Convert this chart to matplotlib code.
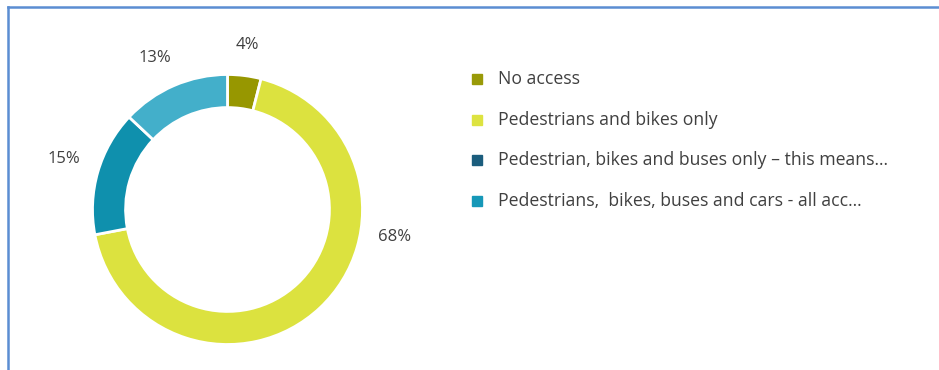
import matplotlib
matplotlib.use("Agg")
import matplotlib.pyplot as plt
from matplotlib.patches import Rectangle
from matplotlib.lines import Line2D

plt.rcParams['font.family'] = ['Open Sans', 'DejaVu Sans']

# share of respondents per access option
categories = [
    "No access",
    "Pedestrians and bikes only",
    "Pedestrian, bikes and buses only \u2013 this means...",
    "Pedestrians,  bikes, buses and cars - all acc...",
]
shares = [4, 68, 15, 13]
slice_colors = ["#979700", "#dce23f", "#0f90ad", "#43afca"]
legend_colors = ["#999a08", "#dde340", "#1b5d7d", "#1698b8"]

# label centres in figure pixels (from top-left)
label_pos = [(247, 45), (395, 237), (64, 159), (155, 58)]

W, H = 939, 370
fig = plt.figure(figsize=(W / 100, H / 100), dpi=100)

# donut centred at (227.5, 209.5) px, outer radius 135 px
cx, cy, r = 227.5, 209.5, 135
ax = fig.add_axes([(cx - r) / W, (H - cy - r) / H, 2 * r / W, 2 * r / H])
ax.pie(shares, colors=slice_colors, startangle=90, counterclock=False,
       radius=1, wedgeprops=dict(width=0.245, edgecolor="white", linewidth=2))
ax.set_xlim(-1, 1)
ax.set_ylim(-1, 1)
ax.set_aspect("equal")
ax.axis("off")

for v, (px, py) in zip(shares, label_pos):
    fig.text(px / W, 1 - py / H, f"{v}%", ha="center", va="center",
             fontsize=12, color="#404040")

# legend: square markers with labels
for i, (name, col) in enumerate(zip(categories, legend_colors)):
    y = 79 + i * 40.7
    fig.patches.append(Rectangle((472 / W, 1 - (y + 5) / H), 10 / W, 10 / H,
                                 transform=fig.transFigure, color=col))
    fig.text(498 / W, 1 - y / H, name, ha="left", va="center",
             fontsize=12.7, color="#404040")

# frame lines along top and left edge
fig.add_artist(Line2D([8 / W, 1], [1 - 7 / H, 1 - 7 / H], transform=fig.transFigure,
                      color="#5b8dd2", linewidth=1.8))
fig.add_artist(Line2D([8 / W, 8 / W], [0, 1 - 7 / H], transform=fig.transFigure,
                      color="#5b8dd2", linewidth=1.8))

fig.savefig("out.png", dpi=100, facecolor="white")
